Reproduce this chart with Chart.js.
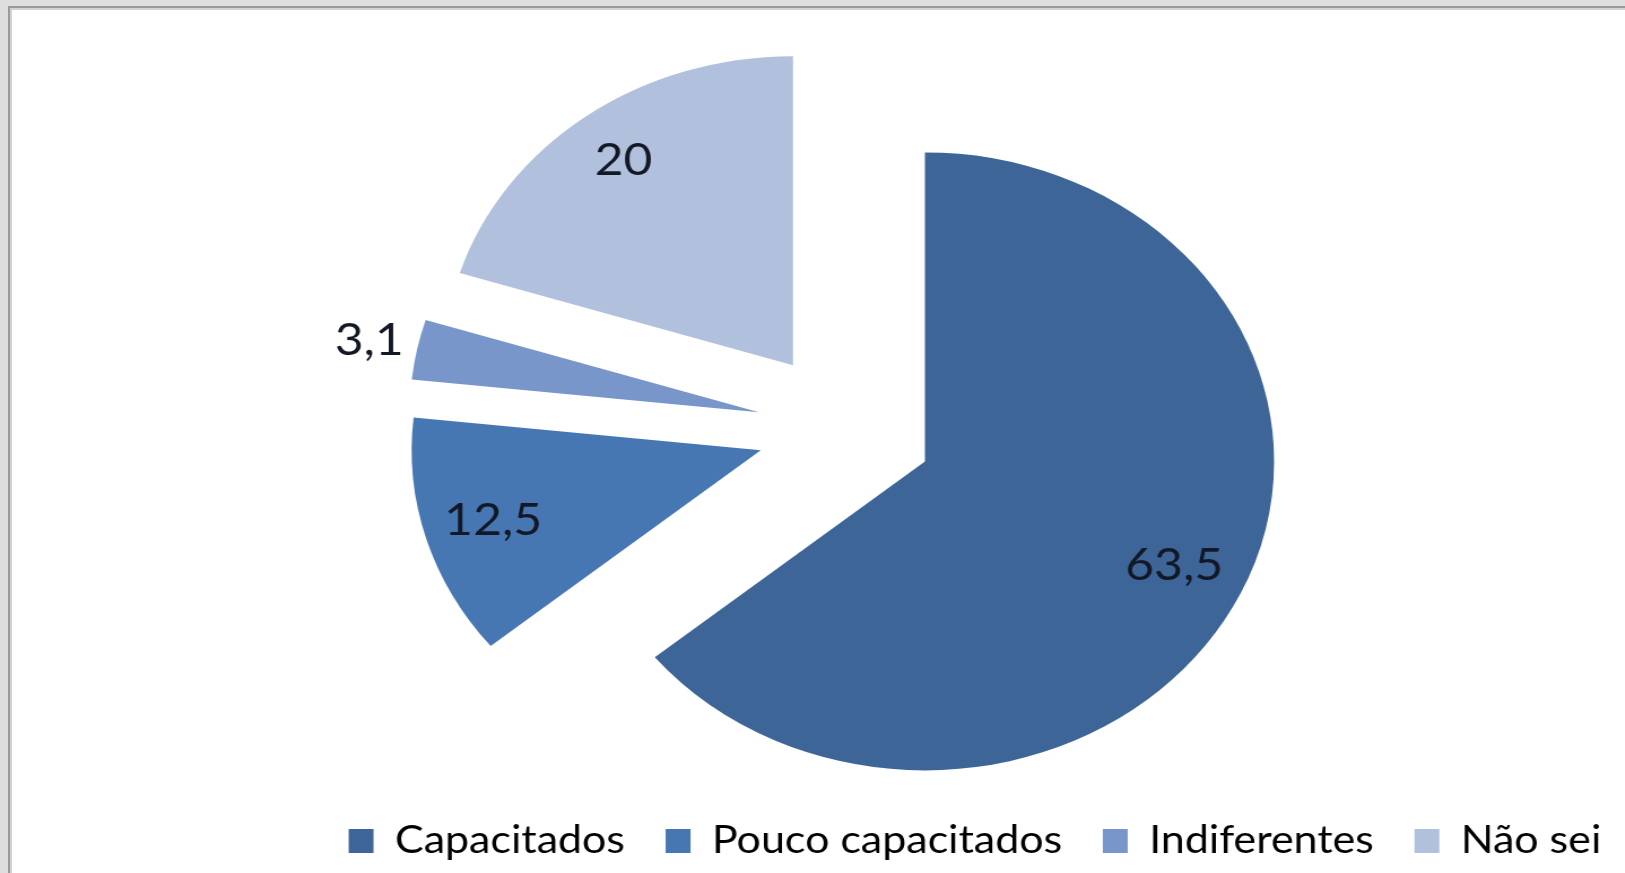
<!DOCTYPE html>
<html>
<head>
<meta charset="utf-8">
<script src="https://cdn.jsdelivr.net/npm/chart.js@4.4.1/dist/chart.umd.min.js"></script>
<style>
    html, body { margin: 0; padding: 0; width: 1625px; height: 873px; overflow: hidden; background: #dedede; }
    #frame {
        position: absolute; left: 8px; top: 6px; width: 1640px; height: 900px;
        background: #fff; border-left: 2px solid #9a9a9a; border-top: 2px solid #9a9a9a;
        box-shadow: inset 2px 2px 0 #d2d2d2;
    }
    /* the original picture is stretched sideways, so the whole chart is too */
    #wrap { position: absolute; left: 0; top: 0; width: 1500px; height: 950px; transform: scaleX(1.13); transform-origin: 0 0; }
</style>
</head>
<body>
<div id="frame"></div>
<div id="wrap"><canvas id="pieChart" width="1500" height="950"></canvas></div>
<script>
    var categories = ['Capacitados', 'Pouco capacitados', 'Indiferentes', 'Não sei'];
    var values = [63.5, 12.5, 3.1, 20];
    var sliceColors = ['#3d6597', '#4777b3', '#7896c9', '#b1c1dd'];

    // every slice is pulled out from the middle by this many px
    var explode = 78;
    // how far out each value label sits, as a share of the radius
    var labelRadius = [0.79, 0.80, 1.14, 0.82];

    // values written with a decimal comma
    function formatValue(v) {
        return String(v).replace('.', ',');
    }

    // Chart.js's own offset also grows and trims the arcs, so move them by hand
    var explodeSlices = {
        id: 'explodeSlices',
        beforeDatasetDraw: function (chart, args) {
            var ctx = chart.ctx;
            args.meta.data.forEach(function (arc) {
                var mid = (arc.startAngle + arc.endAngle) / 2;
                ctx.save();
                ctx.translate(Math.cos(mid) * explode, Math.sin(mid) * explode);
                arc.draw(ctx);
                ctx.restore();
            });
            return false;
        }
    };

    var valueLabels = {
        id: 'valueLabels',
        afterDatasetsDraw: function (chart) {
            var ctx = chart.ctx;
            var meta = chart.getDatasetMeta(0);
            ctx.save();
            ctx.font = '44px Lato';
            ctx.fillStyle = '#121826';
            ctx.textAlign = 'center';
            ctx.textBaseline = 'middle';
            meta.data.forEach(function (arc, i) {
                var mid = (arc.startAngle + arc.endAngle) / 2;
                var dist = explode + arc.outerRadius * labelRadius[i];
                ctx.fillText(formatValue(values[i]), arc.x + Math.cos(mid) * dist, arc.y + Math.sin(mid) * dist);
            });
            ctx.restore();
        }
    };

    var ctx = document.getElementById('pieChart');
    var pieChart = new Chart(ctx, {
        type: 'pie',
        data: {
            labels: categories,
            datasets: [{
                data: values,
                backgroundColor: sliceColors,
                borderWidth: 0,
                radius: 309,
                clip: false
            }]
        },
        options: {
            responsive: false,
            animation: false,
            events: [],
            layout: {
                padding: { left: 43, right: 47, top: 70, bottom: 80 }
            },
            plugins: {
                tooltip: { enabled: false },
                legend: {
                    position: 'bottom',
                    align: 'end',
                    labels: {
                        color: '#000',
                        font: { family: 'Lato', size: 38 },
                        boxWidth: 22,
                        boxHeight: 24,
                        padding: 36
                    }
                }
            }
        },
        plugins: [explodeSlices, valueLabels]
    });
</script>
</body>
</html>
